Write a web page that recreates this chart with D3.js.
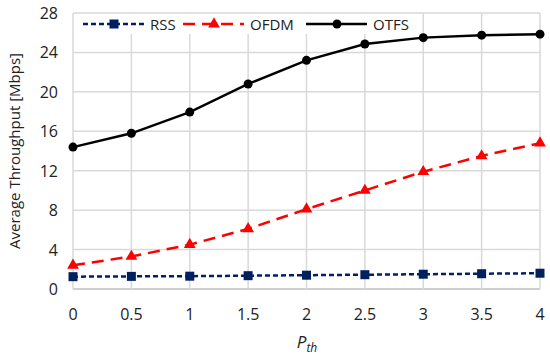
<!DOCTYPE html>
<html>
<head>
<meta charset="utf-8">
<script src="https://cdn.jsdelivr.net/npm/d3@7"></script>
<style>
  body { margin: 0; background: #fff; }
  text { font-family: "Open Sans", "Noto Sans", sans-serif; }
</style>
</head>
<body>
<script>
const pth = [0, 0.5, 1, 1.5, 2, 2.5, 3, 3.5, 4];
const rss = [1.25, 1.28, 1.3, 1.35, 1.4, 1.45, 1.5, 1.55, 1.6];
const ofdm = [2.4, 3.3, 4.5, 6.1, 8.1, 10.0, 11.9, 13.5, 14.8];
const otfs = [14.4, 15.8, 17.95, 20.8, 23.2, 24.85, 25.5, 25.75, 25.85];
const yTicks = [0, 4, 8, 12, 16, 20, 24, 28];
const xTicks = [0, 0.5, 1, 1.5, 2, 2.5, 3, 3.5, 4];

const w = 550, h = 359;
const m = { left: 73, right: 10, top: 13, bottom: 70 };

const svg = d3.select("body").append("svg")
  .attr("width", w).attr("height", h);

const x = d3.scaleLinear().domain([0, 4]).range([m.left, w - m.right]);
const y = d3.scaleLinear().domain([0, 28]).range([h - m.bottom, m.top]);

// grid
svg.append("g").selectAll("line").data(yTicks).enter().append("line")
  .attr("x1", x(0)).attr("x2", x(4))
  .attr("y1", d => y(d)).attr("y2", d => y(d))
  .attr("stroke", d => d === 0 ? "#bfbfbf" : "#d9d9d9").attr("stroke-width", 1.5);
svg.append("g").selectAll("line").data(xTicks).enter().append("line")
  .attr("x1", d => x(d)).attr("x2", d => x(d))
  .attr("y1", y(0)).attr("y2", y(28))
  .attr("stroke", "#d9d9d9").attr("stroke-width", 1.5);

// tick labels
svg.append("g").selectAll("text").data(yTicks).enter().append("text")
  .attr("x", x(0) - 15).attr("y", d => y(d) + 6)
  .attr("text-anchor", "end").attr("font-size", 16).attr("fill", "#222")
  .text(d => d);
svg.append("g").selectAll("text").data(xTicks).enter().append("text")
  .attr("x", d => x(d)).attr("y", y(0) + 31)
  .attr("text-anchor", "middle").attr("font-size", 16).attr("fill", "#222")
  .text(d => d);

// axis titles
svg.append("text")
  .attr("transform", `translate(20,${(y(0) + y(28)) / 2}) rotate(-90)`)
  .attr("text-anchor", "middle").attr("font-size", 15).attr("fill", "#222")
  .text("Average Throughput [Mbps]");
const xt = svg.append("text")
  .attr("x", 307).attr("y", 348).attr("text-anchor", "middle")
  .attr("font-family", "DejaVu Serif, Liberation Serif, serif")
  .attr("font-style", "italic").attr("fill", "#222");
xt.append("tspan").attr("font-size", 17).text("P");
xt.append("tspan").attr("font-size", 12).attr("dy", 4).text("th");

const series = [
  { name: "RSS", vals: rss, color: "#002060", dash: "5,3", width: 2.5, marker: "square" },
  { name: "OFDM", vals: ofdm, color: "#ff0000", dash: "12,7", width: 2.5, marker: "triangle" },
  { name: "OTFS", vals: otfs, color: "#000000", dash: null, width: 2.4, marker: "circle" }
];

const line = d3.line().x((d, i) => x(pth[i])).y(d => y(d));

function marker(g, type, color) {
  if (type === "square") {
    g.append("rect").attr("x", -4.5).attr("y", -4.5).attr("width", 9).attr("height", 9).attr("fill", color);
  } else if (type === "triangle") {
    g.append("path").attr("d", d3.symbol(d3.symbolTriangle, 60)()).attr("fill", color);
  } else {
    g.append("circle").attr("r", 4.5).attr("fill", color);
  }
}

series.forEach(s => {
  svg.append("path").datum(s.vals)
    .attr("d", line).attr("fill", "none")
    .attr("stroke", s.color).attr("stroke-width", s.width)
    .attr("stroke-dasharray", s.dash);
  svg.append("g").selectAll("g").data(s.vals).enter().append("g")
    .attr("transform", (d, i) => `translate(${x(pth[i])},${y(d)})`)
    .each(function () { marker(d3.select(this), s.marker, s.color); });
});

// legend
const legX = [83, 183, 306];
series.forEach((s, i) => {
  const g = svg.append("g").attr("transform", `translate(${legX[i]},24)`);
  g.append("rect").attr("x", -6).attr("y", -10).attr("width", i === 2 ? 110 : 100).attr("height", 20).attr("fill", "#fff");
  g.append("line").attr("x1", 0).attr("x2", 61).attr("y1", 0).attr("y2", 0)
    .attr("stroke", s.color).attr("stroke-width", s.width).attr("stroke-dasharray", s.dash);
  const mg = g.append("g").attr("transform", "translate(31,0)");
  marker(mg, s.marker, s.color);
  g.append("text").attr("x", 67).attr("y", 5.5).attr("font-size", 15).attr("fill", "#222").text(s.name);
});
</script>
</body>
</html>
